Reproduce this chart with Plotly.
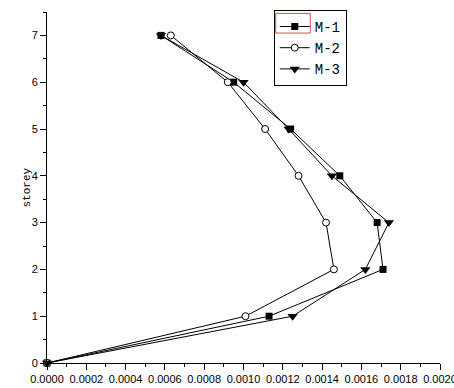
import plotly.graph_objects as go

storey = [0, 1, 2, 3, 4, 5, 6, 7]
m1 = [0.0, 0.00113, 0.00171, 0.00168, 0.00149, 0.00124, 0.00095, 0.00058]
m2 = [0.0, 0.00101, 0.00146, 0.00142, 0.00128, 0.00111, 0.00092, 0.00063]
m3 = [0.0, 0.00125, 0.00162, 0.00174, 0.00145, 0.00123, 0.00100, 0.00058]
series_names = ["M-1", "M-2", "M-3"]

fig = go.Figure()
fig.add_trace(go.Scatter(x=m1, y=storey, name=series_names[0], mode="lines+markers",
                         line=dict(color="black", width=1),
                         marker=dict(symbol="square", size=7, color="black"),
                         cliponaxis=False))
fig.add_trace(go.Scatter(x=m2, y=storey, name=series_names[1], mode="lines+markers",
                         line=dict(color="black", width=1),
                         marker=dict(symbol="circle", size=7, color="white",
                                     line=dict(color="black", width=1)),
                         cliponaxis=False))
fig.add_trace(go.Scatter(x=m3, y=storey, name=series_names[2], mode="lines+markers",
                         line=dict(color="black", width=1),
                         marker=dict(symbol="triangle-down", size=9, color="black"),
                         cliponaxis=False))

fig.update_layout(
    width=454, height=388,
    margin=dict(l=47, r=14, t=10, b=25),
    paper_bgcolor="white", plot_bgcolor="white",
    showlegend=True,
    legend=dict(x=0.577, y=1.006, xanchor="left", yanchor="top",
                bordercolor="black", borderwidth=1, bgcolor="rgba(255,255,255,0)",
                font=dict(family="Liberation Mono", size=14, color="black"),
                itemwidth=30, tracegroupgap=0),
    font=dict(family="Liberation Sans", size=11, color="black"),
    annotations=[dict(text="storey", xref="paper", yref="paper", x=0, y=0.5,
                      xshift=-29, textangle=-90, showarrow=False,
                      font=dict(family="Liberation Mono", size=11, color="black"))],
    shapes=[dict(type="rect", xref="paper", yref="paper", layer="above",
                 x0=0.5820, x1=0.6700, y0=0.940, y1=0.996,
                 line=dict(color="#d05050", width=1))],
)
fig.update_xaxes(range=[0, 0.002], showgrid=False, zeroline=False,
                 showline=True, linecolor="black", linewidth=1,
                 ticks="outside", ticklen=6, tickcolor="black", dtick=0.0002,
                 tickformat=".4f", automargin=False, ticklabeloverflow="allow",
                 minor=dict(ticks="outside", ticklen=3, dtick=0.0001, tickcolor="black"))
fig.update_yaxes(range=[0, 7.5], showgrid=False, zeroline=False,
                 showline=True, linecolor="black", linewidth=1,
                 ticks="outside", ticklen=6, tickcolor="black", dtick=1,
                 automargin=False,
                 minor=dict(ticks="outside", ticklen=3, dtick=0.5, tickcolor="black"))

fig.write_html("out.html")
